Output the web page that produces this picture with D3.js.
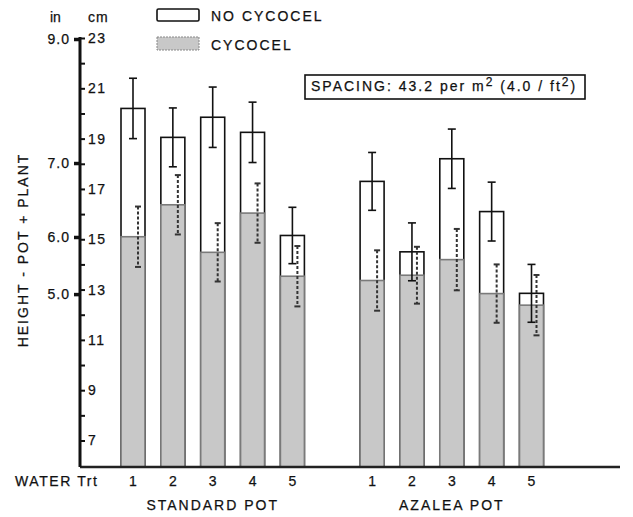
<!DOCTYPE html>
<html lang="en">
<head>
<meta charset="utf-8">
<title>Height - pot + plant</title>
<script src="https://d3js.org/d3.v7.min.js"></script>
<style>
  body { margin: 0; background: #fff; }
  svg text { font-family: "Liberation Sans", Arial, sans-serif; fill: #111; stroke: #111; stroke-width: 0.25px; }
</style>
</head>
<body>
<script>
'use strict';

// data, heights in cm
var pots = ["STANDARD POT", "AZALEA POT"];
var waterTrt = ["1", "2", "3", "4", "5"];
var noCycocel    = [20.2, 19.05, 19.85, 19.25, 15.15, 17.3, 14.5, 18.2, 16.1, 12.85];
var noCycocelErr = [1.2, 1.17, 1.2, 1.2, 1.12, 1.15, 1.15, 1.18, 1.17, 1.15];
var cycocel      = [15.1, 16.37, 14.48, 16.04, 13.53, 13.36, 13.57, 14.19, 12.84, 12.38];
var cycocelErr   = [1.2, 1.18, 1.16, 1.18, 1.2, 1.2, 1.13, 1.22, 1.16, 1.2];
var cmTicks = d3.range(7, 24);
var inchLabels = ["9.0", "7.0", "6.0", "5.0"];
var inchTickCm = [22.96, 18.03, 15.09, 12.82];   // where the inch ticks sit on the cm scale

var w = 633, h = 517;
var axisX = 80, baseY = 467;

var svg = d3.select("body").append("svg")
    .attr("width", w)
    .attr("height", h);

var y = d3.scaleLinear().domain([7, 23]).range([440.5, 38]);
var x = d3.scalePoint().domain(d3.range(11)).range([133, 531.5]);
var barW = 24;

// slot: standard pot 0-4, gap, azalea pot 6-10
var rows = [];
pots.forEach(function(p, pi) {
    waterTrt.forEach(function(t, ti) {
        var k = pi * 5 + ti;
        rows.push({slot: pi * 6 + ti, trt: t, no: noCycocel[k], noErr: noCycocelErr[k],
                   cy: cycocel[k], cyErr: cycocelErr[k]});
    });
});

// white bars (no cycocel)
svg.selectAll("rect.no")
    .data(rows)
    .enter()
    .append("rect")
    .attr("class", "no")
    .attr("x", function(d) { return x(d.slot) - barW / 2; })
    .attr("y", function(d) { return y(d.no); })
    .attr("width", barW)
    .attr("height", function(d) { return baseY - y(d.no); })
    .attr("fill", "#fff")
    .attr("stroke", "#111")
    .attr("stroke-width", 1.6);

// grey bars (cycocel)
svg.selectAll("rect.cy")
    .data(rows)
    .enter()
    .append("rect")
    .attr("class", "cy")
    .attr("x", function(d) { return x(d.slot) - barW / 2; })
    .attr("y", function(d) { return y(d.cy); })
    .attr("width", barW)
    .attr("height", function(d) { return baseY - y(d.cy); })
    .attr("fill", "#c8c8c8")
    .attr("stroke", "#7a7a7a")
    .attr("stroke-width", 1.6);

// solid error bars
var eb = svg.append("g").attr("stroke", "#111").attr("stroke-width", 1.6);
rows.forEach(function(d) {
    var cx = x(d.slot), t = y(d.no + d.noErr), b = y(d.no - d.noErr);
    eb.append("line").attr("x1", cx).attr("x2", cx).attr("y1", t).attr("y2", b);
    eb.append("line").attr("x1", cx - 4).attr("x2", cx + 4).attr("y1", t).attr("y2", t);
    eb.append("line").attr("x1", cx - 4).attr("x2", cx + 4).attr("y1", b).attr("y2", b);
});

// dashed error bars
var db = svg.append("g").attr("stroke", "#333").attr("stroke-width", 2);
rows.forEach(function(d) {
    var cx = x(d.slot) + 5, t = y(d.cy + d.cyErr), b = y(d.cy - d.cyErr);
    db.append("line").attr("x1", cx).attr("x2", cx).attr("y1", t).attr("y2", b)
        .attr("stroke-dasharray", "3,2");
    db.append("line").attr("x1", cx - 3).attr("x2", cx + 3).attr("y1", t).attr("y2", t);
    db.append("line").attr("x1", cx - 3).attr("x2", cx + 3).attr("y1", b).attr("y2", b);
});

// baseline
svg.append("line")
    .attr("x1", axisX).attr("x2", 620)
    .attr("y1", baseY).attr("y2", baseY)
    .attr("stroke", "#222").attr("stroke-width", 2.5);

// cm axis (right side ticks)
var cmAxis = d3.axisRight(y)
    .tickValues(cmTicks)
    .tickSize(5)
    .tickPadding(3)
    .tickFormat(function(d) { return d % 2 ? d : ""; });
var gcm = svg.append("g").attr("transform", "translate(" + axisX + ",0)").call(cmAxis);
gcm.select(".domain").remove();
gcm.selectAll(".tick line").attr("stroke", "#111").attr("stroke-width", 2);
gcm.selectAll(".tick text")
    .attr("font-size", "14px")
    .attr("letter-spacing", "1.5px")
    .attr("font-family", "Liberation Sans, Arial, sans-serif")
    .attr("fill", "#111");

// inch axis (left side ticks)
var inAxis = d3.axisLeft(y)
    .tickValues(inchTickCm)
    .tickSize(6)
    .tickPadding(4)
    .tickFormat(function(d, i) { return inchLabels[i]; });
var gin = svg.append("g").attr("transform", "translate(" + axisX + ",0)").call(inAxis);
gin.select(".domain").remove();
gin.selectAll(".tick line").attr("stroke", "#111").attr("stroke-width", 3.5);
gin.selectAll(".tick text")
    .attr("font-size", "14px")
    .attr("letter-spacing", "1px")
    .attr("font-family", "Liberation Sans, Arial, sans-serif")
    .attr("fill", "#111");

// axis line
svg.append("line")
    .attr("x1", axisX).attr("x2", axisX)
    .attr("y1", y(23) - 1).attr("y2", baseY)
    .attr("stroke", "#111").attr("stroke-width", 3);

// unit headers
svg.append("text").attr("x", 50).attr("y", 22).attr("font-size", "14px").text("in");
svg.append("text").attr("x", 88).attr("y", 22).attr("font-size", "14px")
    .attr("letter-spacing", "1px").text("cm");

// y title
svg.append("text")
    .attr("transform", "translate(28,250) rotate(-90)")
    .attr("text-anchor", "middle")
    .attr("font-size", "14px")
    .attr("letter-spacing", "2px")
    .text("HEIGHT - POT + PLANT");

// x labels
svg.append("text").attr("x", 15).attr("y", 486)
    .attr("font-size", "14px").attr("letter-spacing", "1.6px").text("WATER Trt");
svg.selectAll("text.trt")
    .data(rows)
    .enter()
    .append("text")
    .attr("class", "trt")
    .attr("x", function(d) { return x(d.slot); })
    .attr("y", 486)
    .attr("text-anchor", "middle")
    .attr("font-size", "14px")
    .text(function(d) { return d.trt; });
svg.selectAll("text.pot")
    .data(pots)
    .enter()
    .append("text")
    .attr("class", "pot")
    .attr("x", function(d, i) { return x(i * 6 + 2); })
    .attr("y", 510)
    .attr("text-anchor", "middle")
    .attr("font-size", "14px")
    .attr("letter-spacing", "2px")
    .text(function(d) { return d; });

// legend
svg.append("rect").attr("x", 157).attr("y", 9).attr("width", 42).attr("height", 12)
    .attr("rx", 1.5).attr("fill", "#fff").attr("stroke", "#111").attr("stroke-width", 1.6);
svg.append("text").attr("x", 211).attr("y", 21).attr("font-size", "14px")
    .attr("letter-spacing", "2px").text("NO CYCOCEL");
svg.append("rect").attr("x", 157).attr("y", 37).attr("width", 42).attr("height", 13)
    .attr("fill", "#c8c8c8").attr("stroke", "#888").attr("stroke-width", 1)
    .attr("stroke-dasharray", "2,1");
svg.append("text").attr("x", 211).attr("y", 50).attr("font-size", "14px")
    .attr("letter-spacing", "2px").text("CYCOCEL");

// spacing box
svg.append("rect").attr("x", 305).attr("y", 75).attr("width", 280).attr("height", 24)
    .attr("fill", "#fff").attr("stroke", "#111").attr("stroke-width", 1.6);
var sp = svg.append("text").attr("x", 311).attr("y", 91).attr("font-size", "14px")
    .attr("letter-spacing", "2px");
sp.append("tspan").text("SPACING: 43.2 per m");
sp.append("tspan").attr("dy", -5).attr("font-size", "12px").text("2");
sp.append("tspan").attr("dy", 5).text(" (4.0 / ft");
sp.append("tspan").attr("dy", -5).attr("font-size", "12px").text("2");
sp.append("tspan").attr("dy", 5).text(")");
</script>
</body>
</html>
